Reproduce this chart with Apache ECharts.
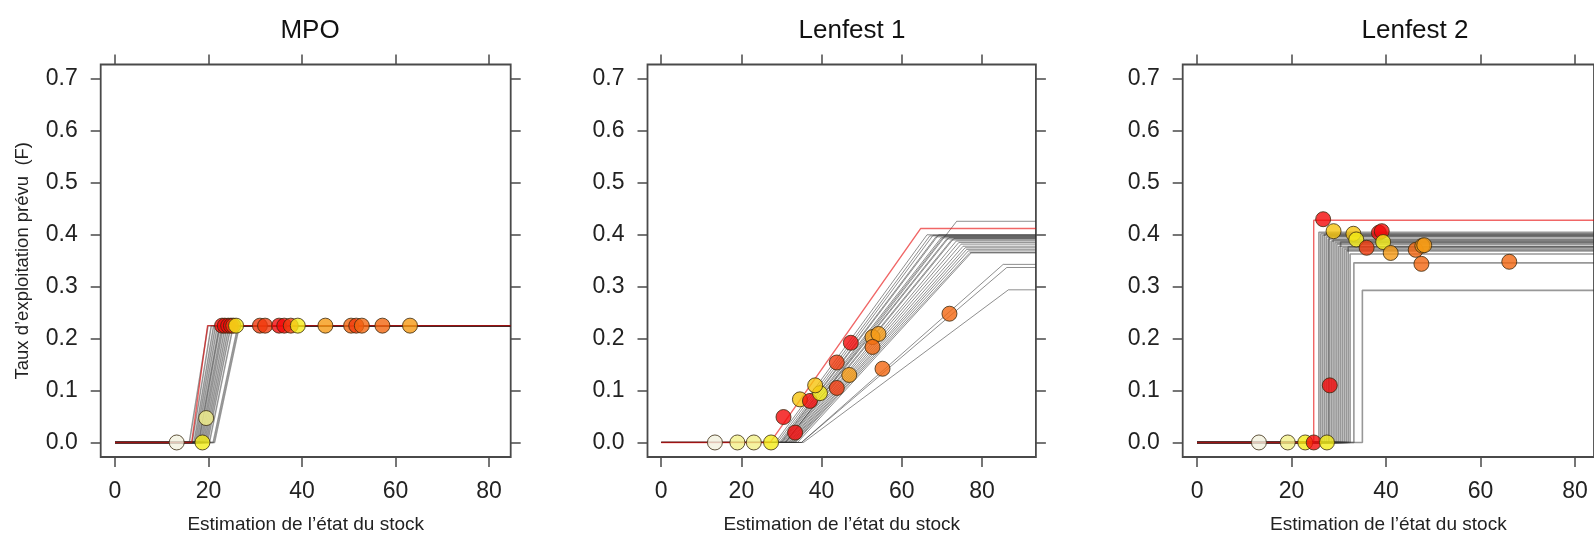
<!DOCTYPE html>
<html>
<head>
<meta charset="utf-8">
<script src="https://cdn.jsdelivr.net/npm/echarts@6/dist/echarts.min.js"></script>
<style>
  html, body { margin: 0; padding: 0; background: #ffffff; }
  #chart { width: 1594px; height: 539px; }
</style>
</head>
<body>
<div id="chart"></div>
<script>
// ---- Panel titles and axis text ----
const panelTitles = ['MPO', 'Lenfest 1', 'Lenfest 2'];
const xAxisTitle = 'Estimation de l’état du stock';
const yAxisTitle = 'Taux d’exploitation prévu  (F)';
const xTickValues = [0, 20, 40, 60, 80];
const yTickValues = [0, 0.1, 0.2, 0.3, 0.4, 0.5, 0.6, 0.7];

// ---- MPO rules: [lower point, upper point], constant F above the upper point ----
const mpoFmax = 0.225;
const mpoRules = [
  [15.9, 19.9], [16.5, 20.6], [16.9, 21.1], [17.2, 21.5], [17.5, 21.9],
  [17.8, 22.3], [18.0, 22.5], [18.3, 22.9], [18.6, 23.2], [18.9, 23.6],
  [19.2, 24.0], [19.5, 24.4], [19.8, 24.8], [20.2, 25.3], [21.0, 26.3], [21.3, 26.6]
];
const mpoCurrent = [16.4, 19.8];
// annual estimates: [stock, F, shade]
const mpoPoints = [
  [13.2, 0, 7], [18.7, 0, 5], [19.5, 0.047, 6],
  [22.9, 0.225, 0], [23.5, 0.225, 0], [24.2, 0.225, 0], [24.8, 0.225, 0], [25.3, 0.225, 1], [25.9, 0.225, 5],
  [31.0, 0.225, 1], [32.1, 0.225, 1], [35.1, 0.225, 0], [36.2, 0.225, 0], [37.6, 0.225, 1], [39.1, 0.225, 5],
  [45.0, 0.225, 3], [50.5, 0.225, 2], [51.6, 0.225, 1], [52.8, 0.225, 2], [57.2, 0.225, 2], [63.1, 0.225, 3]
];

// ---- Lenfest 1 rules: [lower point, target point, Fmax] ----
const lenfest1Rules = [
  [31.0, 73.7, 0.426], [28.5, 66.3, 0.400], [29.0, 67.0, 0.398], [29.5, 67.8, 0.399],
  [29.8, 68.5, 0.396], [30.0, 69.2, 0.400], [30.2, 69.8, 0.394], [30.5, 70.5, 0.397],
  [30.8, 71.2, 0.392], [31.0, 71.8, 0.395], [31.2, 72.4, 0.390], [31.5, 73.0, 0.393],
  [31.8, 73.6, 0.388], [32.0, 74.2, 0.385], [32.3, 74.8, 0.382], [32.5, 75.3, 0.378],
  [32.8, 75.8, 0.375], [33.0, 76.2, 0.372], [33.3, 76.6, 0.369], [33.5, 77.0, 0.366],
  [34.0, 77.3, 0.365], [35.0, 85.3, 0.343], [35.0, 86.2, 0.337], [35.5, 86.6, 0.294]
];
const lenfest1Current = [27.2, 64.7, 0.412];
const lenfest1Points = [
  [13.4, 0, 7], [19.0, 0, 6], [23.1, 0, 6], [27.4, 0, 5],
  [30.5, 0.049, 0], [33.4, 0.019, 0], [34.6, 0.083, 4], [37.1, 0.080, 0], [39.6, 0.095, 5], [38.4, 0.110, 4],
  [43.8, 0.105, 1], [43.8, 0.154, 1], [46.9, 0.130, 3], [47.3, 0.192, 0],
  [52.7, 0.203, 3], [54.2, 0.209, 3], [52.7, 0.184, 2], [55.2, 0.142, 2], [71.9, 0.248, 2]
];

// ---- Lenfest 2 rules: [threshold, Fmax] ----
const lenfest2Rules = [
  [25.8, 0.405], [26.2, 0.402], [26.6, 0.399], [27.0, 0.401], [27.4, 0.396],
  [27.8, 0.392], [28.0, 0.398], [28.4, 0.388], [28.8, 0.390], [29.2, 0.385],
  [29.6, 0.382], [30.0, 0.378], [30.4, 0.386], [30.8, 0.375], [31.2, 0.372],
  [31.6, 0.369], [32.0, 0.377], [32.4, 0.363], [33.2, 0.346], [35.0, 0.293]
];
const lenfest2Current = [24.7, 0.428];
const lenfest2Points = [
  [13.1, 0, 7], [19.2, 0, 6], [22.9, 0, 5], [24.7, 0, 0], [27.5, 0, 5],
  [28.1, 0.110, 0], [26.7, 0.430, 0], [28.9, 0.407, 4], [33.1, 0.402, 4], [33.7, 0.391, 5],
  [35.9, 0.375, 1], [38.5, 0.404, 0], [39.1, 0.407, 0], [39.4, 0.386, 5], [41.0, 0.365, 3],
  [46.3, 0.371, 2], [47.7, 0.379, 3], [48.1, 0.380, 3], [47.5, 0.344, 2], [66.1, 0.348, 2]
];

// ---- layout and style ----
const FONT = '"Liberation Sans", Arial, Helvetica, sans-serif';
const shadeColors = ['#f20a0a', '#f03a0c', '#f26610', '#f59a14', '#f6c40e', '#f4ec18', '#f3f08a', '#f3f1de'];
const yMin = -0.028, yMax = 0.728;
const panels = [
  { left: 100.7, width: 410, xMin: -3.06, xMax: 84.64 },
  { left: 647.5, width: 388.4, xMin: -3.42, xMax: 93.46 },
  { left: 1182.7, width: 438, xMin: -3.04, xMax: 84.04 }
];
const gridTop = 64.5, gridHeight = 401.5;

const chart = echarts.init(document.getElementById('chart'), null, { renderer: 'canvas' });

const grid = panels.map(p => ({
  left: p.left, top: gridTop, width: p.width, height: gridHeight,
  show: true, borderColor: '#4a4a4a', borderWidth: 1.8, backgroundColor: 'transparent',
  containLabel: false
}));

const tickStyle = { color: '#4a4a4a', width: 1.5 };
const xAxis = [];
const yAxis = [];
panels.forEach((p, i) => {
  xAxis.push({
    type: 'value', gridIndex: i, min: p.xMin, max: p.xMax, position: 'bottom',
    axisLine: { show: false, onZero: false },
    axisTick: { show: true, inside: false, length: 10, customValues: xTickValues, lineStyle: tickStyle },
    axisLabel: { show: true, customValues: xTickValues, fontSize: 23, color: '#222', fontFamily: FONT, margin: 23 },
    splitLine: { show: false },
    name: xAxisTitle, nameLocation: 'middle', nameGap: 58,
    nameTextStyle: { fontSize: 19, color: '#222', fontFamily: FONT }
  });
  xAxis.push({
    type: 'value', gridIndex: i, min: p.xMin, max: p.xMax, position: 'top',
    axisLine: { show: false, onZero: false },
    axisTick: { show: true, inside: false, length: 10, customValues: xTickValues, lineStyle: tickStyle },
    axisLabel: { show: false },
    splitLine: { show: false }
  });
  yAxis.push({
    type: 'value', gridIndex: i, min: yMin, max: yMax, position: 'left',
    axisLine: { show: false, onZero: false },
    axisTick: { show: true, inside: false, length: 10, customValues: yTickValues, lineStyle: tickStyle },
    axisLabel: { show: true, customValues: yTickValues, fontSize: 23, color: '#222', fontFamily: FONT, margin: 23,
      formatter: v => v.toFixed(1) },
    splitLine: { show: false },
    name: i === 0 ? yAxisTitle : '', nameLocation: 'middle', nameGap: 68,
    nameTextStyle: { fontSize: 18.5, color: '#222', fontFamily: FONT }
  });
  yAxis.push({
    type: 'value', gridIndex: i, min: yMin, max: yMax, position: 'right',
    axisLine: { show: false, onZero: false },
    axisTick: { show: true, inside: false, length: 10, customValues: yTickValues, lineStyle: tickStyle },
    axisLabel: { show: false },
    splitLine: { show: false }
  });
});

const series = [];
function ruleLine(i, pts, style, z) {
  series.push({
    type: 'line', xAxisIndex: 2 * i, yAxisIndex: 2 * i, data: pts,
    showSymbol: false, symbol: 'none', silent: true, clip: true, z: z,
    lineStyle: style, animation: false
  });
}
const grayMPO = { color: 'rgba(45,45,45,0.5)', width: 1.5 };
const grayL1 = { color: 'rgba(50,50,50,0.55)', width: 1 };
const grayL2 = { color: 'rgba(50,50,50,0.5)', width: 1.6 };
const redStyle = { color: 'rgba(230,0,0,0.6)', width: 1.4 };

// MPO
mpoRules.forEach(r => ruleLine(0, [[0, 0], [r[0], 0], [r[1], mpoFmax], [panels[0].xMax, mpoFmax]], grayMPO, 2));
ruleLine(0, [[0, 0], [mpoCurrent[0], 0], [mpoCurrent[1], mpoFmax], [panels[0].xMax, mpoFmax]], redStyle, 3);
// Lenfest 1
lenfest1Rules.forEach(r => ruleLine(1, [[0, 0], [r[0], 0], [r[1], r[2]], [panels[1].xMax, r[2]]], grayL1, 2));
ruleLine(1, [[0, 0], [lenfest1Current[0], 0], [lenfest1Current[1], lenfest1Current[2]], [panels[1].xMax, lenfest1Current[2]]], redStyle, 3);
// Lenfest 2
lenfest2Rules.forEach(r => ruleLine(2, [[0, 0], [r[0], 0], [r[0], r[1]], [panels[2].xMax, r[1]]], grayL2, 2));
ruleLine(2, [[0, 0], [lenfest2Current[0], 0], [lenfest2Current[0], lenfest2Current[1]], [panels[2].xMax, lenfest2Current[1]]], redStyle, 3);

// annual estimates
[mpoPoints, lenfest1Points, lenfest2Points].forEach((pts, i) => {
  series.push({
    type: 'scatter', xAxisIndex: 2 * i, yAxisIndex: 2 * i, z: 5, silent: true, animation: false,
    symbol: 'circle', symbolSize: 15,
    data: pts.map(p => ({ value: [p[0], p[1]], itemStyle: { color: shadeColors[p[2]] } })),
    itemStyle: { borderColor: '#3a2a10', borderWidth: 1 }
  });
});

const titleX = [310, 852, 1415];
const graphic = panelTitles.map((t, i) => ({
  type: 'text', x: titleX[i], y: 31, silent: true,
  style: { text: t, fontSize: 26, fontFamily: FONT, fill: '#111', align: 'center', verticalAlign: 'middle' }
}));

chart.setOption({
  backgroundColor: '#ffffff',
  animation: false,
  grid, xAxis, yAxis, series, graphic
});
</script>
</body>
</html>
